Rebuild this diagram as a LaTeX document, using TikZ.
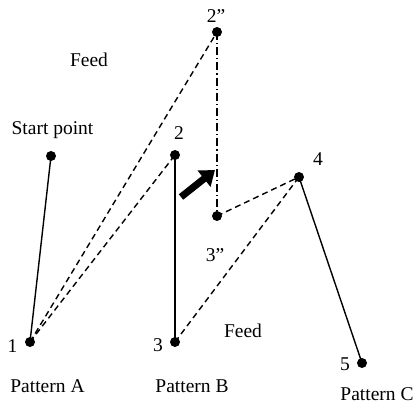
\documentclass[tikz,border=0pt]{standalone}
\usepackage{fontspec}
\setmainfont{Liberation Serif}
\usetikzlibrary{arrows.meta}
\begin{document}
\begin{tikzpicture}[x=1pt,y=-1pt,
  dot/.style={circle,fill=black,inner sep=0pt,minimum size=10pt},
  lbl/.style={font=\fontsize{19.5}{22}\selectfont,inner sep=0pt},
  solidline/.style={line width=1.4pt},
  dashline/.style={line width=1.4pt,dash pattern=on 6pt off 4pt},
  dashdotline/.style={line width=1.4pt,dash pattern=on 8pt off 3pt on 1.2pt off 3pt}]
\useasboundingbox (0,0) rectangle (420,408);
\node[dot] (s) at (51,156) {};
\node[dot] (p1) at (30,342) {};
\node[dot] (p2) at (175,155) {};
\node[dot] (p3) at (175,342) {};
\node[dot] (q2) at (217,32) {};
\node[dot] (q3) at (217,216) {};
\node[dot] (p4) at (299,177) {};
\node[dot] (p5) at (362,363) {};
\draw[solidline] (s.center) -- (p1.center);
\draw[solidline] (p2.center) -- (p3.center);
\draw[solidline] (p4.center) -- (p5.center);
\draw[dashline] (p1.center) -- (q2.center);
\draw[dashline] (p1.center) -- (p2.center);
\draw[dashline] (p3.center) -- (p4.center);
\draw[dashline] (q3.center) -- (p4.center);
\draw[dashdotline] (q2.center) -- (q3.center);
\coordinate (at) at (181,197);
\coordinate (ah) at (215,170);
\draw[line width=7pt,-{Triangle[length=14pt,width=20pt]}] (at) -- (ah);
\node[lbl] (tf1) at (89,60) {Feed};
\node[lbl] (tsp) at (52.5,130) {Start point};
\node[lbl] (t2) at (179,133) {2};
\node[lbl] (tq2) at (216,16) {2''};
\node[lbl] (t4) at (318,159) {4};
\node[lbl] (tq3) at (215,255) {3''};
\node[lbl] (t1) at (12.5,346) {1};
\node[lbl] (t3) at (158,345) {3};
\node[lbl] (tf2) at (243,331) {Feed};
\node[lbl] (t5) at (345,364) {5};
\node[lbl] (tpa) at (47.5,386) {Pattern A};
\node[lbl] (tpb) at (192,386) {Pattern B};
\node[lbl] (tpc) at (377,394) {Pattern C};
\end{tikzpicture}
\end{document}
